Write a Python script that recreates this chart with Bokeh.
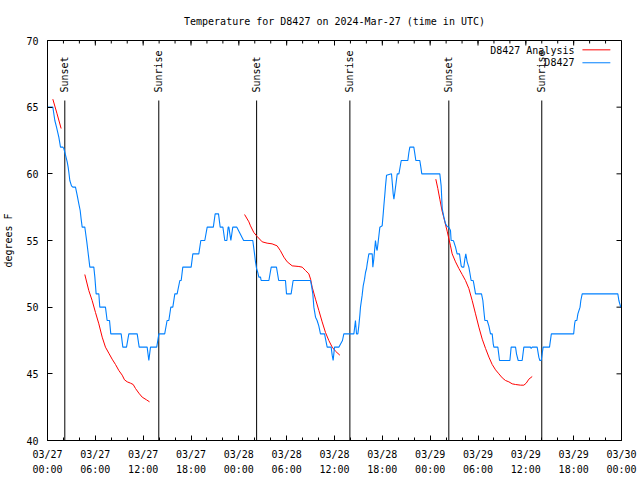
import math
from bokeh.plotting import figure
from bokeh.models import FixedTicker, Range1d
from bokeh.core.properties import value
from bokeh.embed import file_html
from bokeh.resources import INLINE

FONT = "DejaVu Sans Mono"

# ---- data (hours since 2024-03-27 00:00 UTC) ----
x_ticks = [0, 6, 12, 18, 24, 30, 36, 42, 48, 54, 60, 66, 72]
x_tick_labels = ["03/27\n00:00", "03/27\n06:00", "03/27\n12:00", "03/27\n18:00",
                 "03/28\n00:00", "03/28\n06:00", "03/28\n12:00", "03/28\n18:00",
                 "03/29\n00:00", "03/29\n06:00", "03/29\n12:00", "03/29\n18:00",
                 "03/30\n00:00"]
x_minor_ticks = list(range(0, 73, 2))
y_ticks = [40, 45, 50, 55, 60, 65, 70]

obs_hours = [0.0, 0.67, 0.92, 1.13, 1.42, 1.63, 1.92, 2.05, 2.26, 2.47, 2.59, 2.68, 2.80, 3.01, 3.18,
             3.51, 3.72, 3.93, 4.10, 4.22, 4.35, 4.68, 4.77, 4.93, 5.06, 5.19, 5.31, 5.81, 5.94, 6.10,
             6.44, 6.56, 7.27, 7.48, 7.78, 7.94, 9.24, 9.45, 9.91, 10.2, 11.25, 11.5, 12.5, 12.71, 12.92,
             13.7, 13.97, 14.7, 15.0, 15.22, 15.47, 15.72, 15.97, 16.26, 16.6, 16.77, 16.97, 18.02, 18.23,
             18.98, 19.23, 19.73, 20.03, 20.8, 21.03, 21.45, 21.66, 22.0, 22.24, 22.5, 22.66, 22.75, 23.0,
             23.24, 23.75, 24.6, 25.75, 25.97, 26.09, 26.22, 26.38, 26.51, 26.72, 26.8, 27.77, 28.06,
             28.72, 29.0, 29.85, 29.98, 30.56, 30.81, 32.99, 33.12, 33.28, 33.41, 33.62, 33.82, 34.03,
             34.24, 34.75, 35.0, 35.08, 35.58, 35.71, 35.83, 36.0, 36.54, 37.0, 37.17, 38.43, 38.63,
             38.76, 38.93, 39.05, 39.18, 39.26, 39.47, 39.6, 39.77, 39.89, 40.02, 40.1, 40.31, 40.73,
             40.81, 40.93, 41.14, 41.27, 41.35, 41.48, 41.69, 41.98, 42.11, 42.19, 42.32, 42.4, 42.53,
             43.15, 43.28, 43.36, 43.45, 43.57, 43.74, 43.87, 44.08, 44.2, 44.37, 45.2, 45.33, 45.45,
             45.95, 46.08, 46.2, 46.7, 46.83, 46.95, 49.21, 49.38, 49.51, 49.72, 49.93, 50.13, 50.34,
             50.55, 50.63, 50.88, 50.97, 51.18, 51.38, 51.68, 51.89, 52.01, 52.22, 52.35, 52.47, 52.64,
             52.85, 52.97, 53.14, 53.39, 53.48, 53.69, 54.44, 54.61, 54.73, 54.86, 55.15, 55.36, 55.57,
             55.78, 55.91, 55.99, 56.49, 56.70, 58.0, 58.16, 58.71, 58.83, 59.04, 59.54, 59.75, 60.59,
             60.67, 60.8, 61.42, 61.63, 61.76, 61.93, 62.17, 62.97, 63.2, 66.0, 66.12, 66.2, 66.4, 66.53,
             66.8, 66.9, 67.07, 71.54, 71.67, 71.9]
obs_temps = [65, 65, 64, 63.5, 62.75, 62, 62, 61.9, 61.4, 60.9, 60.5, 60.1, 59.5, 59.1, 59,
             59, 58.4, 57.75, 57.25, 56.6, 56, 56, 55.6, 54.9, 54.25, 53.6, 53, 53, 52.25, 51,
             51, 50, 50, 49, 49, 48, 48, 47, 47, 48, 48, 47, 47, 46, 47,
             47, 48, 48, 49, 49, 50, 50, 51, 51, 52, 52, 53, 53, 54,
             54, 55, 55, 56, 56, 57, 57, 56, 56, 55, 55, 56, 56, 55,
             56, 56, 55, 55, 54, 53.4, 52.9, 52.6, 52.25, 52.25, 52, 52, 53,
             53, 52, 52, 51, 51, 52, 52, 51.6, 51, 50, 49.25, 49, 48.6,
             48, 48, 47.25, 47, 47, 46.4, 46, 47, 47, 47.5, 48, 48, 49,
             48, 48, 48.6, 49.4, 50, 50.9, 51.6, 52.1, 52.6, 52.9, 53.25, 54, 54,
             53, 53.6, 55, 54.4, 54.25, 54.9, 56, 56.1, 57, 57.6, 58.5, 59.1, 59.9,
             60, 59.1, 58.5, 58.1, 58.6, 59.4, 60, 60, 60.4, 61, 61, 61.6, 62,
             62, 61.5, 61, 61, 60.5, 60, 60, 59.1, 57.4, 56.75, 56.25, 56.05, 56,
             55.75, 55, 55, 54.9, 54.5, 54, 54, 53.1, 53, 53, 53.6, 54, 53.4,
             53, 52.6, 52, 52, 51.75, 51, 51, 50.5, 49.75, 49, 49, 48.6, 48,
             48, 47.25, 47, 47, 46, 46, 47, 47, 46.5, 46, 46, 47, 47,
             46.9, 47, 47, 46.25, 46, 46, 47, 47, 48, 48, 48.75, 49, 49, 49.5,
             50, 50.5, 51, 51, 50.5, 50]

ana1_hours = [0.67, 1.2, 1.71]
ana1_temps = [65.6, 64.5, 63.4]
ana2_hours = [4.68, 5.18, 5.6, 6.02, 6.44, 6.86, 7.27, 7.69, 8.11, 8.53, 8.95, 9.37, 9.66, 10.0,
              10.41, 10.75, 11.04, 11.46, 11.88, 12.42, 12.8]
ana2_temps = [52.45, 51.25, 50.5, 49.6, 48.75, 47.75, 47.0, 46.55, 46.1, 45.7, 45.25, 44.9, 44.55,
              44.4, 44.3, 44.2, 43.9, 43.55, 43.25, 43.05, 42.9]
ana3_hours = [24.72, 25.26, 25.46, 25.88, 26.3, 26.93, 27.55, 28.17, 28.8, 29.2, 29.65, 30.07, 30.69,
              31.53, 31.95, 32.36, 32.78, 33.0, 33.2, 33.62, 34.04, 34.45, 34.87, 35.29, 35.71, 36.12,
              36.67]
ana3_temps = [56.95, 56.4, 56.1, 55.6, 55.3, 54.9, 54.8, 54.75, 54.6, 54.25, 53.75, 53.4, 53.1,
              53.05, 53.0, 52.75, 52.5, 52.1, 51.5, 50.6, 49.75, 48.9, 48.1, 47.5, 47.0, 46.7, 46.4]
ana4_hours = [48.71, 48.96, 49.21, 49.5, 49.72, 50.13, 50.55, 50.76, 51.18, 51.6, 52.02, 52.43, 52.85,
              53.27, 53.69, 54.11, 54.53, 54.95, 55.37, 55.78, 56.2, 56.62, 57.04, 57.45, 57.87, 58.29,
              58.71, 59.34, 59.75, 60.05, 60.38, 60.8]
ana4_temps = [59.6, 58.9, 58.1, 57.2, 56.7, 55.7, 54.6, 54.0, 53.4, 52.9, 52.45, 52.0, 51.4, 50.5,
              49.5, 48.5, 47.6, 46.9, 46.25, 45.7, 45.3, 45.0, 44.7, 44.5, 44.4, 44.25, 44.2, 44.15,
              44.15, 44.3, 44.6, 44.8]

event_hours = [2.17, 13.96, 26.23, 37.93, 50.34, 62.0]
event_names = ["Sunset", "Sunrise", "Sunset", "Sunrise", "Sunset", "Sunrise"]

legend_labels = ["D8427 Analysis", "D8427"]

RED = "#ff0000"
BLUE = "#0080ff"

X0, X1 = 0, 72
Y0, Y1 = 40, 70

p = figure(width=640, height=480, x_range=Range1d(X0, X1), y_range=Range1d(Y0, Y1),
           output_backend="svg", toolbar_location=None,
           min_border_left=47, min_border_right=19, min_border_top=40, min_border_bottom=40,
           title="Temperature for D8427 on 2024-Mar-27 (time in UTC)")
p.title.text_font = FONT
p.title.text_font_size = "10px"
p.title.text_font_style = "normal"
p.title.align = "center"
p.title.text_color = "black"
p.title.standoff = 27

p.xgrid.visible = False
p.ygrid.visible = False
p.outline_line_color = "black"
p.outline_line_width = 1
p.outline_line_alpha = 1.0
p.background_fill_color = "white"
p.border_fill_color = "white"

def style_axis(ax):
    ax.axis_line_color = "black"
    ax.major_tick_line_color = "black"
    ax.minor_tick_line_color = "black"
    ax.major_tick_in = 5
    ax.major_tick_out = 0
    ax.minor_tick_in = 3
    ax.minor_tick_out = 0
    ax.major_label_text_font = FONT
    ax.major_label_text_font_size = "10px"
    ax.major_label_text_color = "black"

p.xaxis.ticker = FixedTicker(ticks=x_ticks, minor_ticks=x_minor_ticks)
p.xaxis.major_label_overrides = {t: lab for t, lab in zip(x_ticks, x_tick_labels)}
p.xaxis.major_label_text_line_height = 1.4
style_axis(p.xaxis[0])
p.xaxis.major_label_standoff = 8

p.yaxis.ticker = FixedTicker(ticks=y_ticks, minor_ticks=[])
style_axis(p.yaxis[0])
p.yaxis.major_label_standoff = 9
p.yaxis.axis_label = "degrees F"
p.yaxis.axis_label_text_font = FONT
p.yaxis.axis_label_text_font_size = "10px"
p.yaxis.axis_label_text_font_style = "normal"
p.yaxis.axis_label_text_color = "black"
p.yaxis.axis_label_standoff = 9

# mirrored ticks on top and right border (gnuplot style)
p.ray(x=x_ticks, y=[Y1] * len(x_ticks), length=5, length_units="screen",
      angle=-math.pi / 2, line_color="black", line_width=1)
p.ray(x=x_minor_ticks, y=[Y1] * len(x_minor_ticks), length=3, length_units="screen",
      angle=-math.pi / 2, line_color="black", line_width=1)
p.ray(x=[X1] * len(y_ticks), y=y_ticks, length=5, length_units="screen",
      angle=math.pi, line_color="black", line_width=1)

# sunrise / sunset markers
n = len(event_hours)
p.segment(x0=event_hours, y0=[Y0] * n, x1=event_hours, y1=[65.5] * n, line_color="black", line_width=1)
p.text(x=event_hours, y=[66.1] * n, text=event_names, angle=math.pi / 2,
       text_align="left", text_baseline="middle", text_font=value(FONT),
       text_font_size="10px", text_color="black")

# analysis (red) segments
for hh, tt in [(ana1_hours, ana1_temps), (ana2_hours, ana2_temps),
               (ana3_hours, ana3_temps), (ana4_hours, ana4_temps)]:
    p.line(hh, tt, line_color=RED, line_width=1)

# observations (blue)
p.line(obs_hours, obs_temps, line_color=BLUE, line_width=1.1)

# key (gnuplot style: text left, sample right)
p.text(x=[66.1, 66.1], y=[69.28, 68.33], text=legend_labels, text_align="right",
       text_baseline="middle", text_font=value(FONT), text_font_size="10px", text_color="black")
p.segment(x0=[67.1, 67.1], y0=[69.3, 68.33], x1=[70.6, 70.6], y1=[69.3, 68.33],
          line_color=[RED, BLUE], line_width=1)

open("out.html", "w").write(file_html(p, INLINE))
